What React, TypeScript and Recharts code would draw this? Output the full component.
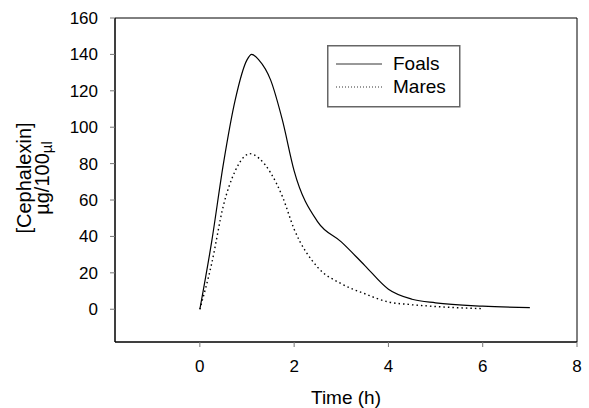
import React from 'react';
import {
  LineChart, Line, XAxis, YAxis, ReferenceArea, Label, Legend,
} from 'recharts';

// time (h) / concentration readings
const foalsTime = [0, 0.25, 0.5, 0.75, 1.0, 1.1, 1.25, 1.5, 1.75, 2.0, 2.5, 3.0, 3.5, 4.0, 4.5, 5.0, 6.0, 7.0];
const foalsConc = [0, 37, 80, 115, 137, 140, 137, 126, 104, 76, 48, 37, 24, 11, 5.5, 3.5, 1.7, 0.9];

const maresTime = [0, 0.25, 0.5, 0.75, 1.0, 1.05, 1.25, 1.5, 1.75, 2.0, 2.5, 3.0, 3.5, 4.0, 4.5, 5.0, 6.0];
const maresConc = [0, 25, 57, 76, 85, 85.5, 83, 75, 62, 44, 23, 14, 8.5, 4, 2.5, 1.5, 0.3];

const xTicks = [0, 2, 4, 6, 8];
const yTicks = [0, 20, 40, 60, 80, 100, 120, 140, 160];

const foals = foalsTime.map((t, i) => ({ t, v: foalsConc[i] }));
const mares = maresTime.map((t, i) => ({ t, v: maresConc[i] }));

const FONT = '"Liberation Sans", Arial, sans-serif';

const LegendBox = () => (
  <svg width={134} height={63} style={{ display: 'block' }}>
    <rect x={0.75} y={0.75} width={132} height={61} fill="#fff" stroke="#666" strokeWidth={1.5} />
    <line x1={9} x2={55} y1={19} y2={19} stroke="#333" strokeWidth={1} />
    <line x1={9} x2={55} y1={42} y2={42} stroke="#333" strokeWidth={1} strokeDasharray="1 2" />
    <text x={66} y={25} fontSize={19} fontFamily={FONT} fill="#000">Foals</text>
    <text x={66} y={48} fontSize={19} fontFamily={FONT} fill="#000">Mares</text>
  </svg>
);

const YLabel = ({ viewBox }: any) => {
  const cy = viewBox.y + viewBox.height / 2 - 2;
  return (
    <g fontFamily={FONT} fontSize={20} fill="#000">
      <text x={31} y={cy} transform={`rotate(-90 31 ${cy})`} textAnchor="middle">[Cephalexin]</text>
      <text x={49} y={cy} transform={`rotate(-90 49 ${cy})`} textAnchor="middle">
        µg/100<tspan fontSize={15} dy={3}>µl</tspan>
      </text>
    </g>
  );
};

export default function App() {
  return (
    <div style={{ position: 'absolute', left: 0, top: 0, background: '#fff' }}>
      <LineChart width={589} height={408} margin={{ top: 18, right: 12, left: 0, bottom: 0 }}>
        <XAxis
          type="number"
          dataKey="t"
          domain={[-1.8, 8]}
          ticks={xTicks}
          allowDataOverflow
          height={66}
          axisLine={{ stroke: '#000' }}
          tickLine={{ stroke: '#777' }}
          tickSize={5}
          tickMargin={13}
          tick={{ fill: '#000', fontSize: 17, fontFamily: FONT }}
        >
          <Label value="Time (h)" position="insideBottom" offset={4} style={{ fill: '#000', fontSize: 19, fontFamily: FONT }} />
        </XAxis>
        <YAxis
          type="number"
          domain={[-18, 160]}
          ticks={yTicks}
          allowDataOverflow
          width={115}
          axisLine={{ stroke: '#000' }}
          tickLine={{ stroke: '#777' }}
          tickSize={5}
          tickMargin={12}
          tick={{ fill: '#000', fontSize: 17, fontFamily: FONT }}
          label={<YLabel />}
        />
        <ReferenceArea x1={-1.8} x2={8} y1={-18} y2={160} fill="none" stroke="#000" strokeWidth={1} ifOverflow="visible" />
        <Legend
          verticalAlign="middle"
          content={<LegendBox />}
          wrapperStyle={{ position: 'absolute', left: 327, top: 45, width: 134, height: 63 }}
        />
        <Line
          data={foals}
          dataKey="v"
          name="Foals"
          type="monotone"
          stroke="#000"
          strokeWidth={1.2}
          dot={false}
          isAnimationActive={false}
        />
        <Line
          data={mares}
          dataKey="v"
          name="Mares"
          type="monotone"
          stroke="#000"
          strokeWidth={1.4}
          strokeDasharray="1.5 3"
          dot={false}
          isAnimationActive={false}
        />
      </LineChart>
    </div>
  );
}
